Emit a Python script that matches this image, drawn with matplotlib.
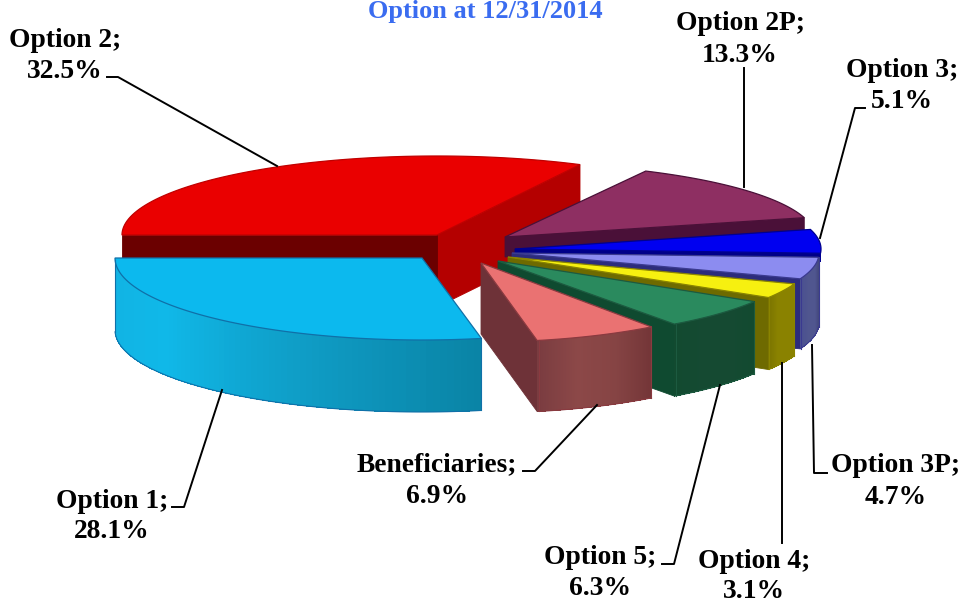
import numpy as np
import matplotlib
matplotlib.use("Agg")
import matplotlib.pyplot as plt
from matplotlib.colors import LinearSegmentedColormap

# data, in the order the pie runs starting from 180 degrees
names = ["Option 1", "Beneficiaries", "Option 5", "Option 4", "Option 3P", "Option 3", "Option 2P", "Option 2"]
shares = [28.1, 6.9, 6.3, 3.1, 4.7, 5.1, 13.3, 32.5]
title = "Option at 12/31/2014"

# exploded centre and size of each slice, pixels
centers = [(422, 258), (481, 263), (498, 261), (508, 257), (512, 253), (515, 249), (505, 237), (437, 235)]
radii = [(307, 82), (290, 79), (300, 78), (305, 78), (307, 75), (306, 75), (310, 74), (315, 79)]
heights = [72, 71, 72, 72, 70, 8, 20, 72]

top_colors = ["#0cb9ee", "#ea7272", "#2a8a5e", "#f6f010", "#8c8cf0", "#0000f0", "#8e2f62", "#ea0000"]
edge_colors = ["#1070a8", "#8a3a40", "#1c5a40", "#8a8400", "#3a3a90", "#000090", "#4a1038", "#c00000"]
side_colors = [
    ["#12b2e2", "#10b8e8", "#0f9dc6", "#0a84a6"],
    ["#7a3c40", "#8c4848", "#864444", "#743638"],
    ["#124a30", "#154a32", "#154a32", "#124a30"],
    ["#7a7400", "#8a8200", "#8a8200", "#8a8200"],
    ["#4a5090", "#50568f", "#50568f", "#44497f"],
    ["#000090", "#000090", "#000090", "#000090"],
    ["#4a1038", "#4a1038", "#4a1038", "#4a1038"],
    ["#8a0000", "#8a0000", "#8a0000", "#8a0000"],
]
start_faces = ["#0a90b8", "#6e3238", "#0f4a30", "#6e6a00", "#2c2c7c", "#000088", "#4a1038", "#b40000"]
end_faces = ["#0a90b8", "#6e3238", "#0f4a30", "#6e6a00", "#1a1a70", "#000088", "#4a1038", "#6b0000"]
draw_order = [7, 6, 5, 4, 3, 2, 1, 0]

# label anchors: centre x, baseline of the name, baseline of the percent
label_x = [112, 437, 600, 754, 896, 902, 740, 65]
label_y1 = [508, 471, 564, 568, 472, 77, 30, 47]
label_y2 = [538, 503, 595, 598, 504, 108, 62, 78]
leaders = [
    ([222, 184, 172], [390, 507, 507]),
    ([597, 535, 523], [405, 471, 471]),
    ([720, 674, 662], [385, 564, 564]),
    ([782, 782], [363, 543]),
    ([812, 814, 827], [345, 473, 473]),
    ([820, 855, 865], [238, 108, 108]),
    ([744, 744], [68, 187]),
    ([277, 118, 107], [166, 77, 77]),
]


def point(center, radius, angle):
    a = np.radians(angle)
    return center[0] + radius[0] * np.cos(a), center[1] - radius[1] * np.sin(a)


def draw_slice(ax, i, a0, a1):
    c, r, h = centers[i], radii[i], heights[i]
    cmap = LinearSegmentedColormap.from_list("side", side_colors[i])
    faces = []
    if np.cos(np.radians(a0)) > 0:
        faces.append((a0, start_faces[i]))
    if np.cos(np.radians(a1)) < 0:
        faces.append((a1, end_faces[i]))
    for ang, col in faces:
        x, y = point(c, r, ang)
        ax.fill([c[0], x, x, c[0]], [c[1], y, y + h, c[1] + h], color=col, lw=0.6)

    # outer wall, only the part turned to the viewer
    angles = np.linspace(a0, a1, 80)
    wall = []
    for k in range(len(angles) - 1):
        mid = (angles[k] + angles[k + 1]) / 2
        if np.sin(np.radians(mid)) >= 0:
            continue
        x0, y0 = point(c, r, angles[k])
        x1, y1 = point(c, r, angles[k + 1])
        ax.fill([x0, x1, x1, x0], [y0, y1, y1 + h, y0 + h], color=cmap(k / 78), lw=0, antialiased=False)
        wall.append((x1, y1))
    if wall and h > 20:
        wx, wy = np.array(wall).T
        ax.plot(wx, wy + h, color=edge_colors[i], lw=0.8)
        ax.plot([wx[-1], wx[-1]], [wy[-1], wy[-1] + h], color=edge_colors[i], lw=0.8)
        ax.plot([wx[0], wx[0]], [wy[0], wy[0] + h], color=edge_colors[i], lw=0.8)

    xs, ys = point(c, r, angles)
    ax.fill(np.r_[c[0], xs], np.r_[c[1], ys], facecolor=top_colors[i], edgecolor=edge_colors[i], lw=0.9)


fig = plt.figure(figsize=(9.66, 6.05), dpi=100)
ax = fig.add_axes([0, 0, 1, 1])
ax.set_xlim(0, 966)
ax.set_ylim(605, 0)
ax.axis("off")

bounds = 180 + np.r_[0, np.cumsum(shares)] * 3.6
for i in draw_order:
    draw_slice(ax, i, bounds[i], bounds[i + 1])

for xs, ys in leaders:
    ax.plot(xs, ys, color="black", lw=1.4, zorder=5)

font = dict(ha="center", va="baseline", family="Liberation Serif", weight="bold", zorder=6)
for i in range(len(names)):
    ax.text(label_x[i], label_y1[i], f"{names[i]};", fontsize=19.8, color="black", **font)
    ax.text(label_x[i], label_y2[i], f"{shares[i]}%", fontsize=19.8, color="black", **font)

ax.text(485, 18, title, fontsize=19, color="#3a6cf0", **font)

fig.savefig("out.png", dpi=100)
